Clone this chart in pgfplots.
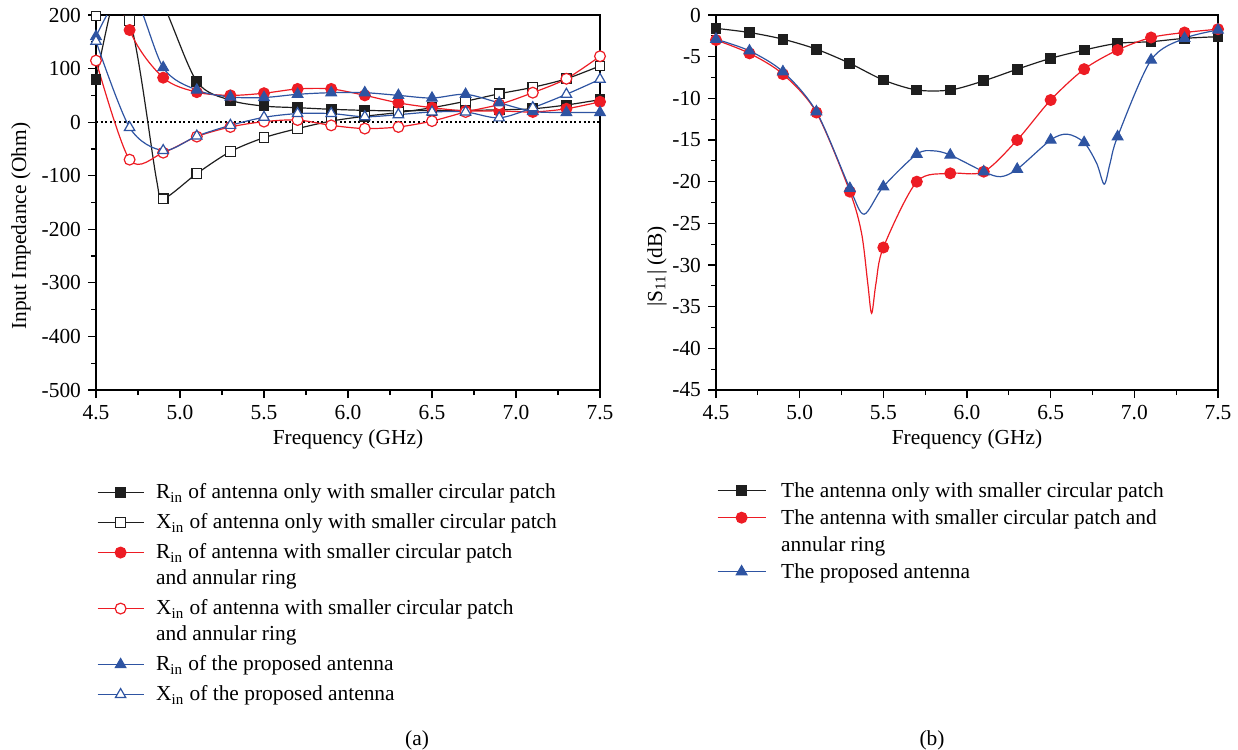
\documentclass[border=0pt]{standalone}
\usepackage{fontspec}
\setmainfont{Liberation Serif}
\usepackage{pgfplots}
\usepackage{pgfplotstable}
\pgfplotsset{compat=1.18}
\definecolor{cblack}{RGB}{30,30,30}
\definecolor{cred}{RGB}{237,28,36}
\definecolor{cblue}{RGB}{46,84,162}
\newcommand{\ls}{\rule[-2.6pt]{0pt}{10.2pt}}

\pgfplotstableread{
f    bR   rR   rX   uR   uX
4.5  80   380  115  160  151
4.7  330  172  -70  250  -10
4.9  220  83   -57  102  -53
5.1  76   56   -27  60   -26
5.3  41   50   -9   47   -6
5.5  30   54   1    46   9
5.7  27   62   4    52   16
5.9  24   62   -6   55   16
6.1  22   50   -12  55   10
6.3  21   36   -9   50   14
6.5  22   27   2    45   19
6.7  22   21   19   52   19
6.9  23   21   33   36   8
7.1  25   19   55   20   27
7.3  32   25   81   18   52
7.5  42   38   123  18   80
}\imp

\pgfplotstableread{
f     bX    m
4.5   198   1
4.7   190   1
4.86  -107  0
4.9   -143  1
5.1   -96   1
5.3   -55   1
5.5   -29   1
5.7   -12   1
5.9   2     1
6.1   11    1
6.3   18    1
6.5   27    1
6.7   39    1
6.9   53    1
7.1   65    1
7.3   81    1
7.5   105   1
}\impbx

\pgfplotstableread{
f    s
4.5  -1.6
4.7  -2.1
4.9  -2.9
5.1  -4.1
5.3  -5.8
5.5  -7.8
5.7  -9.0
5.9  -9.0
6.1  -7.9
6.3  -6.5
6.5  -5.2
6.7  -4.2
6.9  -3.4
7.1  -3.2
7.3  -2.8
7.5  -2.6
}\sblack

\pgfplotstableread{
f     s     m
4.5   -3.0  1
4.7   -4.6  1
4.9   -7.1  1
5.1   -11.7 1
5.3   -21.2 1
5.37  -26.2 0
5.407 -32.2 0
5.43  -35.8 0
5.456 -32.2 0
5.5   -27.9 1
5.7   -20.0 1
5.9   -19.0 1
6.1   -18.8 1
6.3   -15.0 1
6.5   -10.2 1
6.7   -6.5  1
6.9   -4.2  1
7.1   -2.7  1
7.3   -2.1  1
7.5   -1.7  1
}\sred

\pgfplotstableread{
f     s     m
4.5   -2.9  1
4.7   -4.3  1
4.9   -6.8  1
5.1   -11.6 1
5.3   -20.8 1
5.385 -23.9 0
5.5   -20.6 1
5.7   -16.7 1
5.8   -16.3 0
5.9   -16.8 1
6.1   -18.8 1
6.2   -19.4 0
6.3   -18.5 1
6.5   -15.0 1
6.6   -14.3 0
6.7   -15.3 1
6.775 -17.8 0
6.82  -20.3 0
6.855 -17.8 0
6.9   -14.6 1
7.1   -5.4  1
7.3   -2.8  1
7.5   -1.8  1
}\sblue

\pgfplotsset{
  common/.style={
    scale only axis,
    height=187.5pt,
    xmin=4.5, xmax=7.5,
    xtick={4.5,5,5.5,6,6.5,7,7.5},
    xticklabels={4.5,5.0,5.5,6.0,6.5,7.0,7.5},
    minor x tick num=1, minor y tick num=1,
    tick align=outside, tick pos=left,
    major tick length=4pt, minor tick length=2.5pt,
    every tick/.style={black, line width=0.6pt},
    axis line style={black, line width=0.7pt},
    ticklabel style={font=\fontsize{10.7}{12}\selectfont},
    label style={font=\fontsize{10.7}{12}\selectfont},
    xlabel={Frequency (GHz)},
    x label style={at={(axis description cs:0.5,-0.133)}, anchor=center},
    legend style={draw=none, fill=none, font=\fontsize{10.7}{13}\selectfont,
      nodes={inner sep=0pt, text depth=, anchor=base west},
      cells={anchor=base west},
      inner sep=0pt, outer sep=0pt,
      anchor=north west},
    every axis plot/.append style={line width=0.6pt},
  },
  lg/.style={legend image code/.code={
      \draw[mark=none] (0pt,3.2pt) -- (#1,3.2pt);
      \draw plot coordinates {(0.5*#1,3.2pt)};
    }},
  bk/.style={cblack, mark=square*, mark size=2.4pt, mark options={solid}},
  bko/.style={cblack, mark=square*, mark size=2.4pt, mark options={solid, fill=white}},
  rd/.style={cred, mark=*, mark size=2.7pt, mark options={solid}},
  rdo/.style={cred, mark=*, mark size=2.7pt, mark options={solid, fill=white}},
  bl/.style={cblue, mark=triangle*, mark size=3pt, mark options={solid}},
  blo/.style={cblue, mark=triangle*, mark size=3pt, mark options={solid, fill=white}},
}

\begin{document}
\begin{tikzpicture}
\useasboundingbox (0,0) rectangle (619pt,-375pt);

\begin{axis}[common,
  at={(48pt,-195pt)}, anchor=south west, width=252pt,
  ymin=-500, ymax=200,
  ytick={-500,-400,-300,-200,-100,0,100,200},
  yticklabels={-500,-400,-300,-200,-100,0,100,200},
  ylabel={Input Impedance (Ohm)},
  y label style={at={(axis description cs:-0.149,0.437)}, anchor=center},
  legend style={at={(axis description cs:0.002,-0.25)}, row sep=4.8pt, column sep=6pt},
]
\addplot[black, dash pattern=on 1pt off 1.3pt, line width=0.8pt, forget plot] coordinates {(4.5,0) (7.5,0)};
\addplot[bk, smooth, lg=23pt] table[x=f, y=bR] {\imp};
\addlegendentry{\ls R\textsubscript{in} of antenna only with smaller circular patch}
\addplot[cblack, smooth, mark=none, forget plot] table[x=f, y=bX] {\impbx};
\addplot[bko, only marks, lg=23pt, restrict expr to domain={\thisrow{m}}{0.5:1.5}] table[x=f, y=bX] {\impbx};
\addlegendentry{\ls X\textsubscript{in} of antenna only with smaller circular patch}
\addplot[rd, smooth, lg=23pt] table[x=f, y=rR] {\imp};
\addlegendentry{\vtop{\baselineskip=13pt\hbox{\ls R\textsubscript{in} of antenna with smaller circular patch}\hbox{\ls and annular ring}}}
\addplot[rdo, smooth, lg=23pt] table[x=f, y=rX] {\imp};
\addlegendentry{\vtop{\baselineskip=13pt\hbox{\ls X\textsubscript{in} of antenna with smaller circular patch}\hbox{\ls and annular ring}}}
\addplot[bl, smooth, lg=23pt] table[x=f, y=uR] {\imp};
\addlegendentry{\ls R\textsubscript{in} of the proposed antenna}
\addplot[blo, smooth, lg=23pt] table[x=f, y=uX] {\imp};
\addlegendentry{\ls X\textsubscript{in} of the proposed antenna}
\end{axis}

\begin{axis}[common,
  at={(358pt,-195pt)}, anchor=south west, width=251pt,
  ymin=-45, ymax=0,
  ytick={-45,-40,-35,-30,-25,-20,-15,-10,-5,0},
  yticklabels={-45,-40,-35,-30,-25,-20,-15,-10,-5,0},
  ylabel={|S\textsubscript{11}| (dB)},
  y label style={at={(axis description cs:-0.1175,0.33)}, anchor=center},
  legend style={at={(axis description cs:0.002,-0.245)}, row sep=3.3pt, column sep=7.5pt},
]
\addplot[bk, smooth, lg=24pt] table[x=f, y=s] {\sblack};
\addlegendentry{\ls The antenna only with smaller circular patch}
\addplot[cred, smooth, mark=none, forget plot] table[x=f, y=s] {\sred};
\addplot[rd, only marks, lg=24pt, restrict expr to domain={\thisrow{m}}{0.5:1.5}] table[x=f, y=s] {\sred};
\addlegendentry{\vtop{\baselineskip=13.5pt\hbox{\ls The antenna with smaller circular patch and}\hbox{\ls annular ring}}}
\addplot[cblue, smooth, mark=none, forget plot] table[x=f, y=s] {\sblue};
\addplot[bl, only marks, lg=24pt, restrict expr to domain={\thisrow{m}}{0.5:1.5}] table[x=f, y=s] {\sblue};
\addlegendentry{\ls The proposed antenna}
\end{axis}

\node[font=\fontsize{10.7}{13}\selectfont] at (208.5pt,-370pt) {(a)};
\node[font=\fontsize{10.7}{13}\selectfont] at (466pt,-370pt) {(b)};
\end{tikzpicture}
\end{document}
